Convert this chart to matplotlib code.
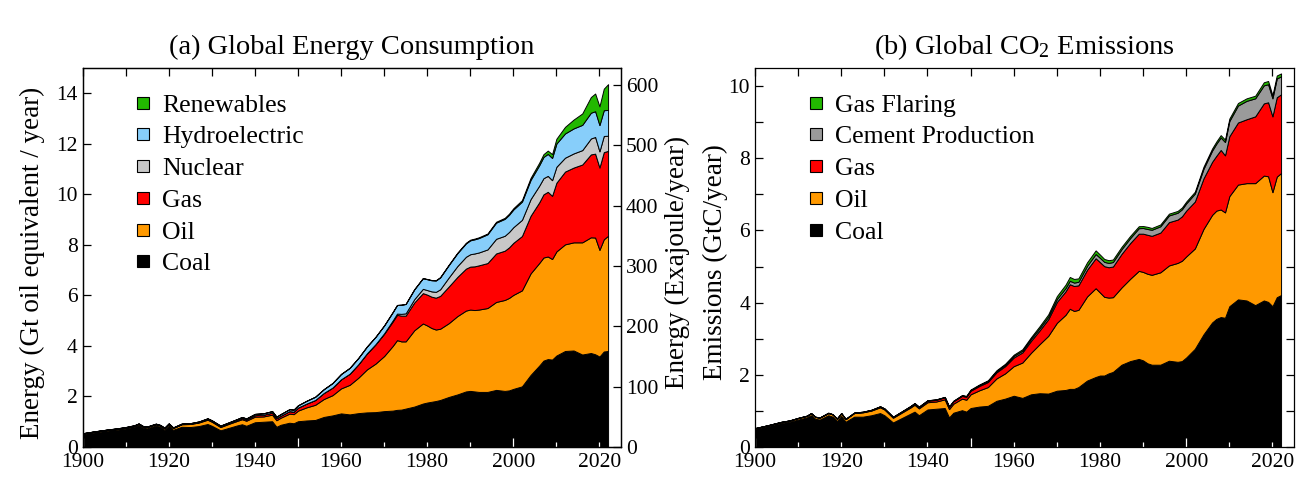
import matplotlib
matplotlib.use("Agg")
import matplotlib.pyplot as plt
from matplotlib.lines import Line2D
from matplotlib.ticker import MultipleLocator, FixedLocator, NullFormatter

plt.rcParams['font.family'] = ['Liberation Serif', 'DejaVu Serif']
plt.rcParams['mathtext.fontset'] = 'custom'
plt.rcParams['mathtext.rm'] = 'Liberation Serif'
plt.rcParams['mathtext.it'] = 'Liberation Serif:italic'

# ---------------- data ----------------
years = [1900, 1903, 1906, 1908, 1910, 1912, 1913, 1914, 1915, 1917,
         1918, 1919, 1920, 1921, 1923, 1925, 1927, 1929, 1930, 1932,
         1934, 1936, 1937, 1938, 1940, 1942, 1944, 1945, 1946, 1948,
         1949, 1950, 1952, 1954, 1956, 1958, 1960, 1962, 1964, 1966,
         1968, 1970, 1972, 1973, 1974, 1975, 1977, 1979, 1980, 1981,
         1982, 1983, 1985, 1987, 1989, 1990, 1991, 1992, 1994, 1996,
         1998, 1999, 2000, 2002, 2004, 2006, 2007, 2008, 2009, 2010,
         2012, 2014, 2016, 2018, 2019, 2020, 2021, 2022]

# (a) energy, Gt oil equivalent / year
coal_e = [0.51, 0.58, 0.65, 0.68, 0.73, 0.80, 0.86, 0.76, 0.74, 0.85,
          0.80, 0.68, 0.84, 0.68, 0.80, 0.79, 0.83, 0.91, 0.84, 0.66,
          0.76, 0.86, 0.90, 0.84, 0.98, 1.00, 1.02, 0.80, 0.88, 0.96,
          0.94, 1.02, 1.05, 1.07, 1.19, 1.25, 1.33, 1.29, 1.34, 1.37,
          1.38, 1.42, 1.44, 1.47, 1.48, 1.52, 1.60, 1.72, 1.76, 1.79,
          1.82, 1.86, 1.98, 2.08, 2.20, 2.22, 2.20, 2.18, 2.18, 2.26,
          2.22, 2.24, 2.30, 2.40, 2.85, 3.22, 3.42, 3.48, 3.46, 3.62,
          3.80, 3.82, 3.66, 3.72, 3.67, 3.58, 3.78, 3.80]
oil_e = [0.02, 0.03, 0.03, 0.04, 0.04, 0.04, 0.05, 0.05, 0.05, 0.05,
         0.05, 0.06, 0.07, 0.07, 0.10, 0.12, 0.14, 0.17, 0.16, 0.13,
         0.16, 0.18, 0.20, 0.20, 0.22, 0.21, 0.26, 0.26, 0.28, 0.36,
         0.36, 0.42, 0.52, 0.60, 0.71, 0.80, 0.99, 1.17, 1.40, 1.70,
         1.92, 2.18, 2.56, 2.76, 2.70, 2.66, 3.02, 3.17, 3.05, 2.92,
         2.83, 2.82, 2.92, 3.10, 3.20, 3.22, 3.22, 3.26, 3.32, 3.48,
         3.60, 3.66, 3.72, 3.80, 4.02, 4.06, 4.08, 4.06, 3.98, 4.12,
         4.22, 4.28, 4.44, 4.58, 4.62, 4.22, 4.44, 4.56]
gas_e = [0.01, 0.01, 0.01, 0.01, 0.01, 0.01, 0.01, 0.01, 0.01, 0.01,
         0.01, 0.01, 0.01, 0.01, 0.01, 0.015, 0.02, 0.03, 0.03, 0.03,
         0.03, 0.04, 0.05, 0.05, 0.06, 0.07, 0.08, 0.08, 0.08, 0.10,
         0.10, 0.12, 0.15, 0.19, 0.24, 0.30, 0.36, 0.44, 0.53, 0.63,
         0.76, 0.88, 0.97, 1.00, 1.02, 1.02, 1.10, 1.20, 1.22, 1.24,
         1.26, 1.30, 1.45, 1.55, 1.66, 1.70, 1.73, 1.75, 1.78, 1.92,
         1.95, 2.00, 2.06, 2.15, 2.28, 2.40, 2.50, 2.56, 2.50, 2.72,
         2.88, 2.96, 3.08, 3.28, 3.32, 3.26, 3.45, 3.36]
nuclear_e = [0, 0, 0, 0, 0, 0, 0, 0, 0, 0,
             0, 0, 0, 0, 0, 0, 0, 0, 0, 0,
             0, 0, 0, 0, 0, 0, 0, 0, 0, 0,
             0, 0, 0, 0, 0, 0, 0.0, 0.001, 0.003, 0.006,
             0.01, 0.02, 0.04, 0.05, 0.07, 0.09, 0.13, 0.17, 0.18, 0.21,
             0.23, 0.26, 0.36, 0.43, 0.47, 0.49, 0.51, 0.51, 0.54, 0.58,
             0.59, 0.61, 0.62, 0.64, 0.66, 0.66, 0.64, 0.63, 0.62, 0.63,
             0.55, 0.56, 0.57, 0.63, 0.66, 0.64, 0.64, 0.60]
hydro_e = [0.005, 0.006, 0.007, 0.008, 0.01, 0.011, 0.012, 0.012, 0.013, 0.014,
           0.014, 0.015, 0.015, 0.015, 0.017, 0.019, 0.021, 0.025, 0.026, 0.027,
           0.03, 0.035, 0.038, 0.04, 0.05, 0.055, 0.06, 0.06, 0.065, 0.075,
           0.08, 0.09, 0.11, 0.13, 0.15, 0.18, 0.21, 0.23, 0.25, 0.27,
           0.29, 0.31, 0.33, 0.34, 0.36, 0.37, 0.39, 0.42, 0.43, 0.44,
           0.45, 0.47, 0.49, 0.51, 0.53, 0.55, 0.56, 0.57, 0.60, 0.64,
           0.67, 0.68, 0.70, 0.72, 0.76, 0.81, 0.84, 0.87, 0.88, 0.92,
           0.96, 0.99, 1.00, 1.02, 1.02, 1.04, 1.02, 1.02]
renew_e = [0, 0, 0, 0, 0, 0, 0, 0, 0, 0,
           0, 0, 0, 0, 0, 0, 0, 0, 0, 0,
           0, 0, 0, 0, 0, 0, 0, 0, 0, 0,
           0, 0, 0, 0, 0, 0, 0, 0, 0, 0,
           0, 0.002, 0.003, 0.003, 0.004, 0.005, 0.006, 0.008, 0.01, 0.01,
           0.012, 0.013, 0.016, 0.02, 0.025, 0.027, 0.028, 0.03, 0.03, 0.035,
           0.04, 0.045, 0.05, 0.06, 0.08, 0.10, 0.11, 0.13, 0.15, 0.19,
           0.26, 0.35, 0.45, 0.62, 0.70, 0.74, 0.85, 1.02]

# (b) emissions, GtC / year
coal_c = [0.50, 0.58, 0.66, 0.70, 0.76, 0.82, 0.88, 0.78, 0.76, 0.88,
          0.84, 0.72, 0.86, 0.70, 0.84, 0.84, 0.88, 0.94, 0.88, 0.68,
          0.80, 0.92, 0.98, 0.88, 1.04, 1.06, 1.08, 0.82, 0.95, 1.02,
          0.98, 1.08, 1.12, 1.14, 1.28, 1.34, 1.42, 1.36, 1.46, 1.49,
          1.48, 1.56, 1.58, 1.61, 1.61, 1.66, 1.84, 1.94, 1.98, 1.98,
          2.04, 2.08, 2.28, 2.38, 2.44, 2.40, 2.32, 2.28, 2.28, 2.39,
          2.36, 2.38, 2.48, 2.72, 3.12, 3.45, 3.55, 3.60, 3.58, 3.90,
          4.09, 4.06, 3.93, 4.06, 4.02, 3.90, 4.15, 4.21]
oil_c = [0.02, 0.02, 0.03, 0.03, 0.04, 0.04, 0.05, 0.05, 0.05, 0.06,
         0.06, 0.06, 0.07, 0.07, 0.10, 0.12, 0.13, 0.16, 0.16, 0.13,
         0.15, 0.17, 0.19, 0.19, 0.20, 0.20, 0.24, 0.23, 0.25, 0.32,
         0.33, 0.38, 0.45, 0.52, 0.62, 0.70, 0.82, 0.98, 1.15, 1.36,
         1.60, 1.88, 2.08, 2.22, 2.16, 2.14, 2.33, 2.46, 2.30, 2.18,
         2.10, 2.07, 2.14, 2.28, 2.44, 2.45, 2.48, 2.49, 2.56, 2.64,
         2.74, 2.78, 2.80, 2.78, 2.92, 2.98, 3.00, 2.98, 2.92, 3.05,
         3.18, 3.25, 3.38, 3.46, 3.48, 3.16, 3.34, 3.38]
gas_c = [0.002, 0.003, 0.003, 0.004, 0.004, 0.004, 0.005, 0.005, 0.005, 0.005,
         0.005, 0.005, 0.006, 0.006, 0.008, 0.01, 0.013, 0.018, 0.02, 0.02,
         0.025, 0.03, 0.033, 0.035, 0.04, 0.045, 0.055, 0.06, 0.065, 0.075,
         0.08, 0.10, 0.12, 0.14, 0.17, 0.20, 0.24, 0.28, 0.33, 0.38,
         0.46, 0.58, 0.65, 0.68, 0.69, 0.68, 0.74, 0.83, 0.84, 0.85,
         0.84, 0.85, 0.93, 0.99, 1.03, 1.06, 1.08, 1.08, 1.10, 1.20,
         1.20, 1.23, 1.27, 1.30, 1.40, 1.47, 1.52, 1.65, 1.58, 1.66,
         1.72, 1.77, 1.85, 2.00, 2.05, 2.10, 2.20, 2.18]
cement_c = [0.002, 0.002, 0.003, 0.003, 0.004, 0.004, 0.005, 0.004, 0.004, 0.004,
            0.004, 0.004, 0.005, 0.004, 0.006, 0.008, 0.009, 0.010, 0.010, 0.008,
            0.009, 0.011, 0.012, 0.012, 0.013, 0.012, 0.010, 0.010, 0.012, 0.015,
            0.016, 0.018, 0.022, 0.026, 0.031, 0.036, 0.043, 0.048, 0.056, 0.063,
            0.069, 0.080, 0.090, 0.095, 0.095, 0.097, 0.107, 0.117, 0.120, 0.119,
            0.120, 0.124, 0.130, 0.138, 0.152, 0.157, 0.160, 0.168, 0.175, 0.185,
            0.190, 0.195, 0.200, 0.220, 0.265, 0.310, 0.335, 0.345, 0.370, 0.420,
            0.470, 0.510, 0.500, 0.500, 0.500, 0.500, 0.520, 0.500]
flaring_c = [0, 0, 0, 0, 0, 0, 0, 0, 0, 0,
             0, 0, 0, 0, 0, 0, 0, 0, 0, 0,
             0, 0, 0.002, 0.002, 0.003, 0.003, 0.004, 0.004, 0.005, 0.008,
             0.01, 0.015, 0.02, 0.022, 0.026, 0.03, 0.035, 0.04, 0.046, 0.055,
             0.065, 0.080, 0.095, 0.105, 0.100, 0.095, 0.098, 0.100, 0.090, 0.080,
             0.075, 0.070, 0.065, 0.060, 0.055, 0.054, 0.060, 0.050, 0.050, 0.050,
             0.050, 0.050, 0.050, 0.052, 0.058, 0.060, 0.062, 0.065, 0.065, 0.068,
             0.070, 0.070, 0.072, 0.085, 0.090, 0.085, 0.082, 0.080]

energy_labels = ['Coal', 'Oil', 'Gas', 'Nuclear', 'Hydroelectric', 'Renewables']
energy_colors = ['#000000', '#FF9900', '#FF0000', '#C8C8C8', '#87CEFA', '#22B800']
co2_labels = ['Coal', 'Oil', 'Gas', 'Cement Production', 'Gas Flaring']
co2_colors = ['#000000', '#FF9900', '#FF0000', '#9A9A9A', '#22B800']

GTOE_TO_EJ = 41.868
xlabels = [1900, 1920, 1940, 1960, 1980, 2000, 2020]

TICK_FS = 15.5
LABEL_FS = 19.5
TITLE_FS = 20.5
LEG_FS = 18.5

W, H = 1314, 491
fig = plt.figure(figsize=(W / 100, H / 100), dpi=100)
ax1 = fig.add_axes([82.6 / W, 44 / H, 538.4 / W, 379 / H])
ax3 = fig.add_axes([755 / W, 44 / H, 539 / W, 379 / H])


def style_x(ax):
    ax.set_xlim(1900, 2025)
    ax.xaxis.set_major_locator(FixedLocator([1900, 1950, 2000]))
    ax.xaxis.set_minor_locator(MultipleLocator(10))
    ax.xaxis.set_major_formatter(NullFormatter())
    ax.tick_params(axis='x', which='major', direction='in', length=6.5,
                   width=0.9, color='white', top=False, labelbottom=False)
    ax.tick_params(axis='x', which='minor', direction='in', length=3.5,
                   width=0.9, color='white', top=False)
    lab = ax.secondary_xaxis('bottom')
    lab.set_xticks(xlabels, labels=[str(v) for v in xlabels])
    lab.tick_params(length=0, labelsize=TICK_FS, pad=4.5)
    lab.spines['bottom'].set_visible(False)
    top = ax.secondary_xaxis('top')
    top.set_xticks(list(range(1900, 2021, 10)))
    top.tick_params(direction='in', length=5.5, width=0.9, color='black',
                    labeltop=False)
    top.spines['top'].set_visible(False)
    top.set_zorder(5)


for a in (ax1, ax3):
    for s in a.spines.values():
        s.set_linewidth(0.9)

# ---- (a) energy ----
ax1.stackplot(years, coal_e, oil_e, gas_e, nuclear_e, hydro_e, renew_e,
              colors=energy_colors, edgecolor='black', linewidth=0.7)
style_x(ax1)
ax1.set_ylim(0, 15)
ax1.yaxis.set_major_locator(MultipleLocator(2))
ax1.tick_params(axis='y', which='major', direction='in', length=5.5, width=0.9,
                labelsize=TICK_FS, pad=3.5, right=True, labelright=False)
ax1.set_ylabel('Energy (Gt oil equivalent / year)', fontsize=LABEL_FS)
ax1.yaxis.set_label_coords(-0.07, 0.487)
ax1.set_title('(a) Global Energy Consumption', fontsize=TITLE_FS, pad=10)

ax2 = ax1.twinx()
ax2.set_ylim(0, 15 * GTOE_TO_EJ)
ax2.yaxis.set_major_locator(MultipleLocator(100))
ax2.tick_params(axis='y', direction='in', length=5.5, width=0.9,
                labelsize=TICK_FS, pad=3.5)
ax2.set_ylabel('Energy (Exajoule/year)', fontsize=LABEL_FS)
ax2.yaxis.set_label_coords(1.082, 0.487)
for s in ax2.spines.values():
    s.set_linewidth(0.9)

h1 = [Line2D([], [], ls='none', marker='s', markersize=8, markerfacecolor=c,
             markeredgecolor='black', markeredgewidth=0.8)
      for c in energy_colors]
ax1.legend(h1[::-1], energy_labels[::-1], loc='upper left',
           bbox_to_anchor=(0.093, 0.932), frameon=False, fontsize=LEG_FS,
           borderpad=0, borderaxespad=0, handlelength=0.8, handletextpad=0.34,
           labelspacing=0.34)

# ---- (b) CO2 ----
ax3.stackplot(years, coal_c, oil_c, gas_c, cement_c, flaring_c,
              colors=co2_colors, edgecolor='black', linewidth=0.7)
style_x(ax3)
ax3.set_ylim(0, 10.5)
ax3.yaxis.set_major_locator(MultipleLocator(2))
ax3.yaxis.set_minor_locator(MultipleLocator(1))
ax3.tick_params(axis='y', which='both', direction='in', length=5.5, width=0.9,
                labelsize=TICK_FS, pad=3.5, right=True, labelright=False)
ax3.set_ylabel('Emissions (GtC/year)', fontsize=LABEL_FS)
ax3.yaxis.set_label_coords(-0.0495, 0.487)
ax3.set_title('(b) Global CO$_2$ Emissions', fontsize=TITLE_FS, pad=10)

h3 = [Line2D([], [], ls='none', marker='s', markersize=8, markerfacecolor=c,
             markeredgecolor='black', markeredgewidth=0.8)
      for c in co2_colors]
ax3.legend(h3[::-1], co2_labels[::-1], loc='upper left',
           bbox_to_anchor=(0.094, 0.932), frameon=False, fontsize=LEG_FS,
           borderpad=0, borderaxespad=0, handlelength=0.8, handletextpad=0.34,
           labelspacing=0.34)

fig.savefig('out.png', dpi=100)
